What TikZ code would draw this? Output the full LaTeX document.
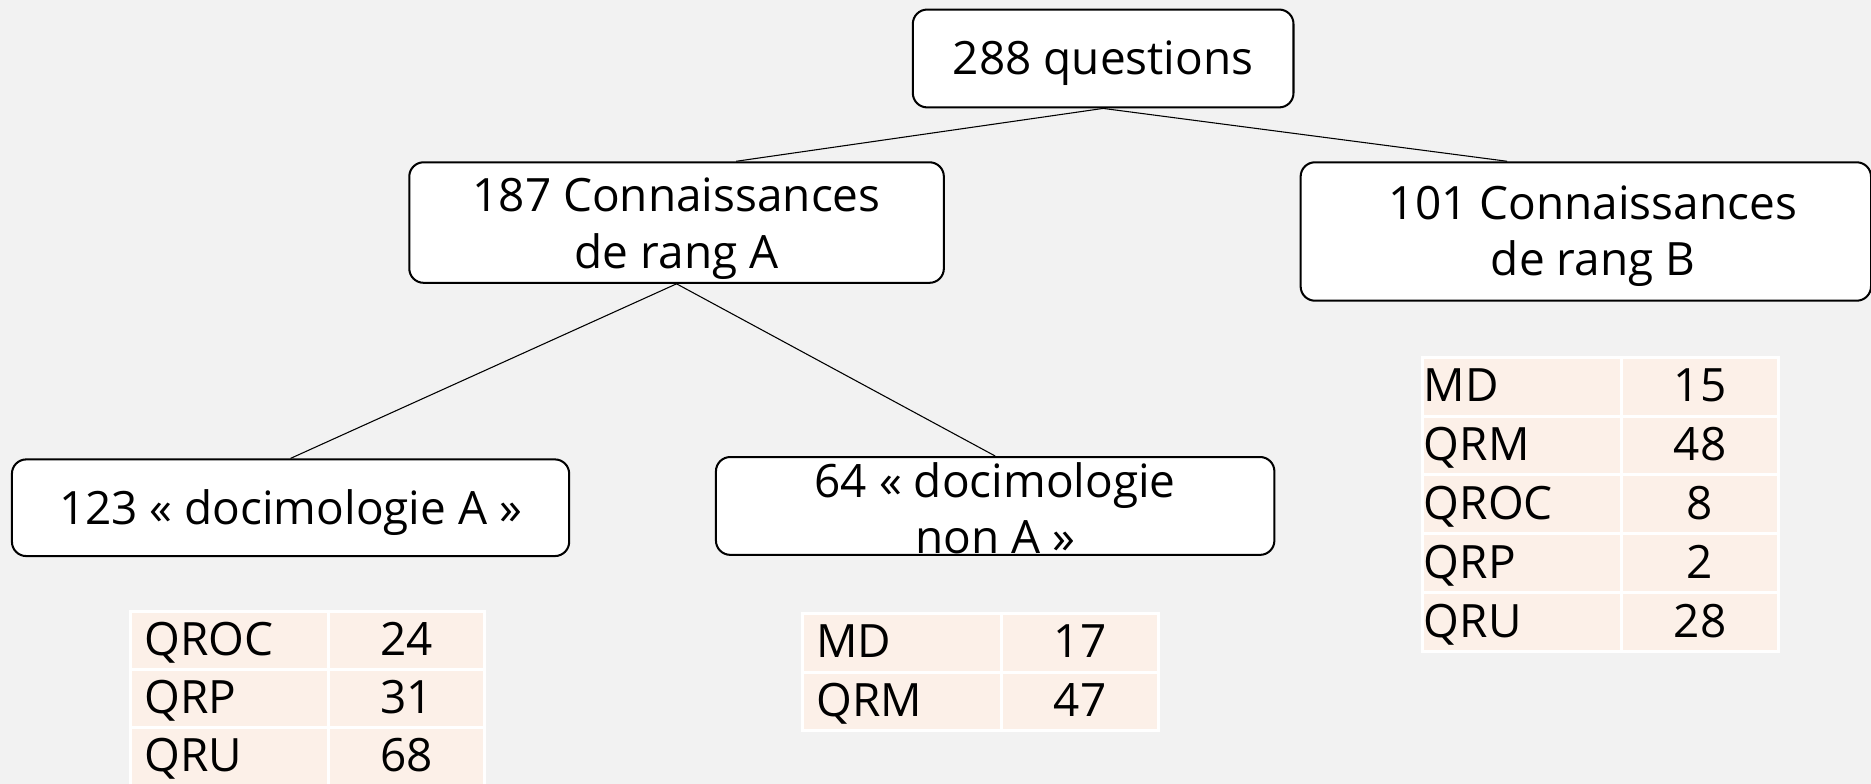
\documentclass[tikz,border=0pt]{standalone}
\usepackage{fontspec}
\setmainfont{Open Sans}
\definecolor{bg}{RGB}{242,242,242}
\definecolor{peach}{RGB}{252,240,232}
\begin{document}
\begin{tikzpicture}[x=1pt,y=-1pt,
  box/.style={draw=black, line width=1.7pt, fill=white, rounded corners=12pt, inner sep=0pt},
  txt/.style={font=\fontsize{38.5}{47.5}\selectfont, align=center, inner sep=0pt},
  link/.style={draw=black, line width=0.9pt},
  cell/.style={draw=white, line width=2.5pt, fill=peach, inner sep=0pt, anchor=north west, font=\fontsize{38.5}{42}\selectfont, text height=30.5pt, text depth=5.5pt},
  lab/.style={cell, align=left},
  num/.style={cell, align=center}]
\useasboundingbox[fill=bg] (0,0) rectangle (1568,657);

% boxes
\node[box, minimum width=319pt, minimum height=82pt] (b288) at (924.5,49) {};
\node[txt] (t288) at (924.5,53) {288 questions};

\node[box, minimum width=448pt, minimum height=101pt] (b187) at (567,186.5) {};
\node[txt] (t187) at (567,191.5) {187 Connaissances\\de rang A};

\node[box, minimum width=478pt, minimum height=116pt] (b101) at (1329,194) {};
\node[txt] (t101) at (1335,198) {101 Connaissances\\de rang B};

\node[box, minimum width=467pt, minimum height=81pt] (b123) at (243.5,425.5) {};
\node[txt] (t123) at (243.5,429.5) {123 « docimologie A »};

\node[box, minimum width=468pt, minimum height=82pt] (b64) at (834,424) {};
\node[txt] (t64) at (834,426) {64 « docimologie\\non A »};

% connectors
\draw[link] (b288.south) -- ([xshift=50pt]b187.north);
\draw[link] (b288.south) -- ([xshift=-66pt]b101.north);
\draw[link] (b187.south) -- (b123.north);
\draw[link] (b187.south) -- (b64.north);

% table 1
\node[lab, minimum width=166pt, minimum height=48.7pt, text width=142pt, inner xsep=12pt] (t1a1) at (108,511) {QROC};
\node[num, minimum width=131pt, minimum height=48.7pt, text width=131pt] (t1b1) at (274,511) {24};
\node[lab, minimum width=166pt, minimum height=48.7pt, text width=142pt, inner xsep=12pt] (t1a2) at (108,559.7) {QRP};
\node[num, minimum width=131pt, minimum height=48.7pt, text width=131pt] (t1b2) at (274,559.7) {31};
\node[lab, minimum width=166pt, minimum height=48.7pt, text width=142pt, inner xsep=12pt] (t1a3) at (108,608.4) {QRU};
\node[num, minimum width=131pt, minimum height=48.7pt, text width=131pt] (t1b3) at (274,608.4) {68};

% table 2
\node[lab, minimum width=167pt, minimum height=49pt, text width=143pt, inner xsep=12pt] (t2a1) at (671,513) {MD};
\node[num, minimum width=132pt, minimum height=49pt, text width=132pt] (t2b1) at (838,513) {17};
\node[lab, minimum width=167pt, minimum height=49pt, text width=143pt, inner xsep=12pt] (t2a2) at (671,562) {QRM};
\node[num, minimum width=132pt, minimum height=49pt, text width=132pt] (t2b2) at (838,562) {47};

% table 3
\node[lab, minimum width=167pt, minimum height=49.4pt, text width=165pt, inner xsep=1pt] (t3a1) at (1191,298) {MD};
\node[num, minimum width=131pt, minimum height=49.4pt, text width=131pt] (t3b1) at (1358,298) {15};
\node[lab, minimum width=167pt, minimum height=49.4pt, text width=165pt, inner xsep=1pt] (t3a2) at (1191,347.4) {QRM};
\node[num, minimum width=131pt, minimum height=49.4pt, text width=131pt] (t3b2) at (1358,347.4) {48};
\node[lab, minimum width=167pt, minimum height=49.4pt, text width=165pt, inner xsep=1pt] (t3a3) at (1191,396.8) {QROC};
\node[num, minimum width=131pt, minimum height=49.4pt, text width=131pt] (t3b3) at (1358,396.8) {8};
\node[lab, minimum width=167pt, minimum height=49.4pt, text width=165pt, inner xsep=1pt] (t3a4) at (1191,446.2) {QRP};
\node[num, minimum width=131pt, minimum height=49.4pt, text width=131pt] (t3b4) at (1358,446.2) {2};
\node[lab, minimum width=167pt, minimum height=49.4pt, text width=165pt, inner xsep=1pt] (t3a5) at (1191,495.6) {QRU};
\node[num, minimum width=131pt, minimum height=49.4pt, text width=131pt] (t3b5) at (1358,495.6) {28};
\end{tikzpicture}
\end{document}
